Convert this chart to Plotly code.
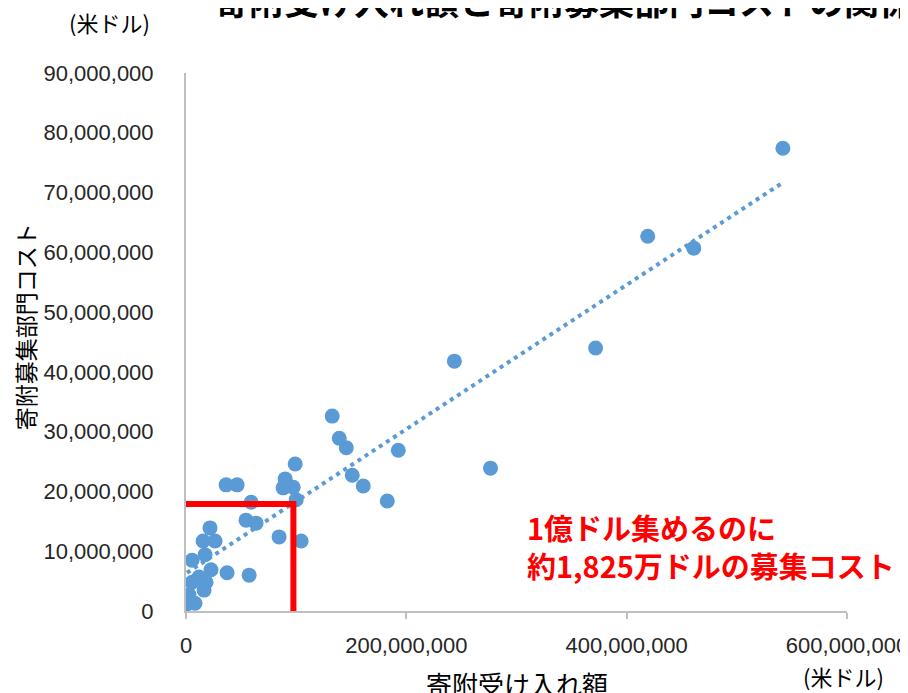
"""寄附受け入れ額と寄附募集部門コストの散布図 (Plotly)."""
import numpy as np
import plotly.graph_objects as go

BLUE, RED, AXIS = "#5B9BD5", "#FF0000", "#BFBFBF"
FONT = "Noto Sans CJK JP"
TICK_FONT = "Liberation Sans"

# 寄附受け入れ額 (百万ドル) / 寄附募集部門コスト (百万ドル)
donations_m = [541.8, 419.1, 460.9, 243.6, 371.8, 276.4, 132.7, 139.1, 145.5, 192.7,
               150.9, 160.9, 182.7, 99.1, 90.0, 88.2, 97.3, 100.0, 36.4, 46.4,
               59.1, 54.5, 63.6, 84.5, 104.5, 21.8, 15.5, 26.4, 17.3, 5.5,
               37.3, 57.3, 22.7, 11.8, 5.5, 18.2, 16.4, 2.7, 0.9, 8.2]
costs_m = [77.4, 62.7, 60.7, 41.8, 44.0, 23.9, 32.6, 28.9, 27.3, 26.9,
           22.7, 20.9, 18.4, 24.6, 22.1, 20.6, 20.7, 18.6, 21.1, 21.1,
           18.2, 15.2, 14.7, 12.4, 11.7, 13.9, 11.7, 11.7, 9.4, 8.5,
           6.4, 6.0, 6.9, 5.7, 4.8, 4.8, 3.5, 2.7, 1.2, 1.3]

x_vals = [v * 1e6 for v in donations_m]
y_vals = [v * 1e6 for v in costs_m]

# 手書きの目安線
REF_DONATION = 97_500_000
REF_COST = 17_900_000

x_ticks = [0, 200_000_000, 400_000_000, 600_000_000]
y_ticks = list(range(0, 90_000_001, 10_000_000))

# 線形近似
slope, intercept = np.polyfit(x_vals, y_vals, 1)
tx = np.array([min(x_vals), max(x_vals)])
ty = slope * tx + intercept

fig = go.Figure()
fig.add_trace(go.Scatter(x=x_vals, y=y_vals, mode="markers",
                         marker=dict(size=15, color=BLUE), hoverinfo="skip"))
fig.add_trace(go.Scatter(x=tx, y=ty, mode="lines",
                         line=dict(color=BLUE, width=4, dash="4px,4.5px"), hoverinfo="skip"))
fig.add_trace(go.Scatter(x=[0, REF_DONATION, REF_DONATION], y=[REF_COST, REF_COST, 0],
                         mode="lines", line=dict(color=RED, width=6), hoverinfo="skip"))

# ページ本体の余白 8px を差し引いた寸法
fig.update_layout(
    width=900, height=685, showlegend=False,
    paper_bgcolor="white", plot_bgcolor="white",
    font=dict(family=FONT, color="#262626", size=22),
    margin=dict(l=178, r=61, t=65, b=82),
    annotations=[
        dict(text="寄附受け入れ額と寄附募集部門コストの関係", xref="paper", yref="paper",
             x=0.572, y=1.137, showarrow=False, xanchor="center", yanchor="middle",
             font=dict(size=35, color="#000000", weight="bold")),
        dict(text="(米ドル)", xref="paper", yref="paper", x=-0.115, y=1.095,
             showarrow=False, xanchor="center", yanchor="middle",
             font=dict(size=22, color="#000000")),
        dict(text="寄附募集部門コスト", xref="paper", yref="paper", x=-0.243, y=0.528,
             showarrow=False, textangle=-90, xanchor="center", yanchor="middle",
             font=dict(size=23, color="#000000")),
        dict(text="寄附受け入れ額", xref="paper", yref="paper", x=0.5, y=-0.134,
             showarrow=False, xanchor="center", yanchor="middle",
             font=dict(size=26, color="#000000")),
        dict(text="(米ドル)", xref="paper", yref="paper", x=0.994, y=-0.121,
             showarrow=False, xanchor="center", yanchor="middle",
             font=dict(size=22, color="#000000")),
        dict(text="1億ドル集めるのに<br>約1,825万ドルの募集コスト", xref="paper", yref="paper",
             x=0.513, y=0.12, showarrow=False, xanchor="left", yanchor="middle", align="left",
             font=dict(size=29, color=RED, weight="bold")),
    ],
)
fig.update_xaxes(range=[0, 600_000_000], tickvals=x_ticks, tickformat=",d",
                 showgrid=False, zeroline=False, showline=True, linecolor=AXIS, linewidth=2,
                 ticks="outside", ticklen=6, tickcolor=AXIS, tickwidth=2, automargin=False,
                 ticklabelstandoff=8, ticklabeloverflow="allow",
                 tickfont=dict(family=TICK_FONT, size=22))
fig.update_yaxes(range=[0, 90_000_000], tickvals=y_ticks, tickformat=",d",
                 showgrid=False, zeroline=False, showline=True, linecolor=AXIS, linewidth=2,
                 ticks="", ticklabelstandoff=26, automargin=False,
                 tickfont=dict(family=TICK_FONT, size=22))

fig.write_html("out.html")
